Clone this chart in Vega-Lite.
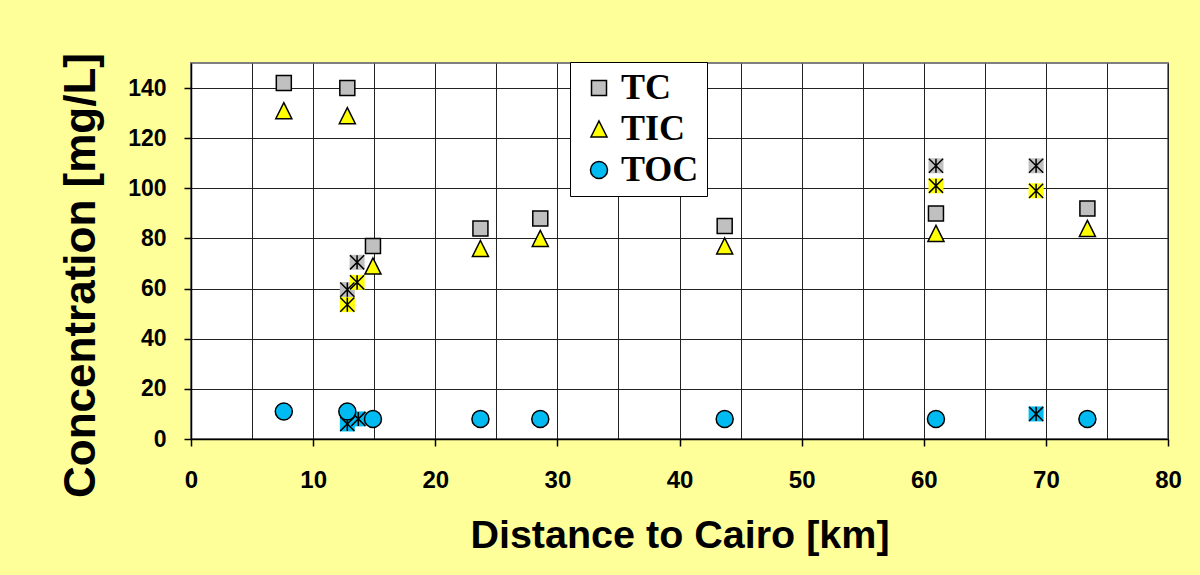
{
  "$schema": "https://vega.github.io/schema/vega-lite/v6.json",
  "width": 977,
  "height": 376,
  "autosize": {"type": "none"},
  "padding": {"left": 191, "top": 63, "right": 32, "bottom": 136},
  "background": "#FFFF99",
  "config": {
    "view": {"fill": "white", "stroke": "#808080", "strokeWidth": 2},
    "font": "Liberation Sans",
    "legend": {
      "title": null,
      "orient": "none",
      "legendX": 379,
      "legendY": -1,
      "fillColor": "white",
      "strokeColor": "black",
      "padding": 8,
      "labelFont": "Liberation Serif",
      "labelFontSize": 36,
      "labelFontWeight": "bold",
      "labelColor": "black",
      "symbolStrokeWidth": 1.5,
      "symbolOffset": 3,
      "labelOffset": 4,
      "rowPadding": 5
    }
  },
  "datasets": {
    "main": [
      {"x": 7.6, "y": 142, "series": "TC"},
      {"x": 12.8, "y": 140, "series": "TC"},
      {"x": 14.9, "y": 77, "series": "TC"},
      {"x": 23.7, "y": 84, "series": "TC"},
      {"x": 28.6, "y": 88, "series": "TC"},
      {"x": 43.7, "y": 85, "series": "TC"},
      {"x": 61.0, "y": 90, "series": "TC"},
      {"x": 73.4, "y": 92, "series": "TC"},
      {"x": 7.6, "y": 131, "series": "TIC"},
      {"x": 12.8, "y": 129, "series": "TIC"},
      {"x": 14.9, "y": 69, "series": "TIC"},
      {"x": 23.7, "y": 76, "series": "TIC"},
      {"x": 28.6, "y": 80, "series": "TIC"},
      {"x": 43.7, "y": 77, "series": "TIC"},
      {"x": 61.0, "y": 82, "series": "TIC"},
      {"x": 73.4, "y": 84, "series": "TIC"},
      {"x": 7.6, "y": 11, "series": "TOC"},
      {"x": 12.8, "y": 11, "series": "TOC"},
      {"x": 14.9, "y": 8, "series": "TOC"},
      {"x": 23.7, "y": 8, "series": "TOC"},
      {"x": 28.6, "y": 8, "series": "TOC"},
      {"x": 43.7, "y": 8, "series": "TOC"},
      {"x": 61.0, "y": 8, "series": "TOC"},
      {"x": 73.4, "y": 8, "series": "TOC"}
    ],
    "stars": [
      {"x": 12.8, "y": 59.6, "series": "TC"},
      {"x": 13.6, "y": 70.5, "series": "TC"},
      {"x": 61.0, "y": 109, "series": "TC"},
      {"x": 69.2, "y": 109, "series": "TC"},
      {"x": 12.8, "y": 53.6, "series": "TIC"},
      {"x": 13.6, "y": 62.5, "series": "TIC"},
      {"x": 61.0, "y": 101, "series": "TIC"},
      {"x": 69.2, "y": 99, "series": "TIC"},
      {"x": 12.8, "y": 6, "series": "TOC"},
      {"x": 13.7, "y": 8, "series": "TOC"},
      {"x": 69.2, "y": 10, "series": "TOC"}
    ]
  },
  "encoding": {
    "x": {
      "field": "x",
      "type": "quantitative",
      "scale": {"domain": [0, 80], "nice": false},
      "axis": {
        "title": "Distance to Cairo [km]",
        "values": [0, 5, 10, 15, 20, 25, 30, 35, 40, 45, 50, 55, 60, 65, 70, 75, 80],
        "labelExpr": "datum.value % 10 === 0 ? datum.label : ''",
        "tickOpacity": {"condition": {"test": "datum.value % 10 !== 0", "value": 0}, "value": 1},
        "tickSize": 7,
        "tickColor": "black",
        "tickWidth": 1.5,
        "domainColor": "black",
        "domainWidth": 1.5,
        "grid": true,
        "gridColor": "#222222",
        "gridWidth": 1,
        "gridOpacity": 1,
        "labelFontSize": 24,
        "labelFontWeight": "bold",
        "labelColor": "black",
        "labelPadding": 22,
        "labelFlush": false,
        "labelOverlap": false,
        "titleFontSize": 39.5,
        "titleFontWeight": "bold",
        "titleColor": "black",
        "titleY": 108,
        "titleBaseline": "alphabetic"
      }
    },
    "y": {
      "field": "y",
      "type": "quantitative",
      "scale": {"domain": [0, 150], "nice": false},
      "axis": {
        "title": "Concentration [mg/L]",
        "values": [0, 20, 40, 60, 80, 100, 120, 140],
        "tickSize": 7,
        "tickColor": "black",
        "tickWidth": 1.5,
        "domainColor": "black",
        "domainWidth": 1.5,
        "grid": true,
        "gridColor": "#222222",
        "gridWidth": 1,
        "gridOpacity": 1,
        "labelFontSize": 23,
        "labelFontWeight": "bold",
        "labelColor": "black",
        "labelPadding": 18,
        "labelOverlap": false,
        "titleFontSize": 44,
        "titleFontWeight": "bold",
        "titleColor": "black",
        "titleX": -97,
        "titleY": 212,
        "titleBaseline": "alphabetic"
      }
    }
  },
  "layer": [
    {
      "data": {"name": "stars"},
      "mark": {"type": "point", "shape": "square", "filled": true, "size": 225, "opacity": 1, "strokeWidth": 0},
      "encoding": {
        "fill": {
          "condition": [
            {"test": "datum.series === 'TC'", "value": "#C0C0C0"},
            {"test": "datum.series === 'TIC'", "value": "#FFFF00"}
          ],
          "value": "#00BBF2"
        }
      }
    },
    {
      "data": {"name": "stars"},
      "mark": {"type": "point", "shape": "M-1,-1L1,1M1,-1L-1,1M0,-1L0,1", "filled": false, "size": 200, "stroke": "black", "strokeWidth": 1.5, "opacity": 1}
    },
    {
      "data": {"name": "main"},
      "mark": {"type": "point", "filled": true, "strokeWidth": 1.5, "opacity": 1},
      "encoding": {
        "shape": {
          "field": "series",
          "type": "nominal",
          "scale": {"domain": ["TC", "TIC", "TOC"], "range": ["square", "M0,-1L1,1L-1,1Z", "circle"]}
        },
        "fill": {
          "field": "series",
          "type": "nominal",
          "scale": {"domain": ["TC", "TIC", "TOC"], "range": ["#C0C0C0", "#FFFF00", "#00BBF2"]}
        },
        "stroke": {
          "field": "series",
          "type": "nominal",
          "scale": {"domain": ["TC", "TIC", "TOC"], "range": ["#000000", "#000000", "#000000"]}
        },
        "size": {
          "field": "series",
          "type": "nominal",
          "scale": {"domain": ["TC", "TIC", "TOC"], "range": [225, 290, 310]}
        }
      }
    }
  ]
}
